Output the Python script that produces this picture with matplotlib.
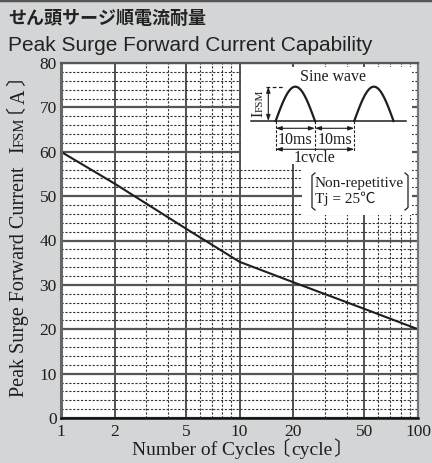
import numpy as np
import matplotlib
matplotlib.use('Agg')
import matplotlib.pyplot as plt
from matplotlib.ticker import FixedLocator, FixedFormatter, NullFormatter
from matplotlib.transforms import IdentityTransform
from matplotlib.lines import Line2D
from matplotlib.textpath import TextPath
from matplotlib.font_manager import FontProperties

# data
cycles = [1, 2, 5, 10, 20, 50, 100]
current = [60, 52.8, 42.7, 35.2, 30.6, 24.6, 20]

x_major = [1, 2, 5, 10, 20, 50, 100]
x_minor = [3, 4, 6, 7, 8, 9, 30, 40, 60, 70, 80, 90]
y_major = list(range(0, 81, 10))
y_minor = list(range(0, 81, 2))

title_jp = "せん頭サージ順電流耐量"
title_en = "Peak Surge Forward Current Capability"
# (text, font size, ink gap after in px) -- pieces share one baseline
xlabel_parts = [("Number of Cycles", 14, 10), ("〔", 14, 3), ("cycle", 14, 3), ("〕", 14, 0)]
ylabel_parts = [("Peak Surge Forward Current", 14.5, 14), ("I", 14.5, 1), ("FSM", 10.5, 6),
                ("〔", 14.5, 4), ("A", 14.5, 4), ("〕", 14.5, 0)]

SERIF = ['Liberation Serif', 'Noto Sans CJK JP']
CJK = ['Noto Sans CJK JP']
plt.rcParams['font.family'] = SERIF
INK = '#1e1e1e'

W, H = 432, 463
fig = plt.figure(figsize=(W / 100, H / 100), dpi=100, facecolor='#d4d5d6')


def px(x0, y0, x1, y1):
    # pixel box measured from the top-left -> figure fraction
    return [x0 / W, 1 - y1 / H, (x1 - x0) / W, (y1 - y0) / H]


def chain_text(x, y, parts, rotation=0, color=INK):
    # text pieces of different sizes on one baseline, spaced ink to ink;
    # x, y pixels from top-left, run centred on y (rotated) or on x (horizontal)
    items = []
    for s, fs, gap in parts:
        fam = CJK if s in "〔〕" else ['Liberation Serif']
        t = fig.text(0, 0, s, fontsize=fs, family=fam, rotation=rotation,
                     rotation_mode='anchor', ha='left', va='baseline', color=color,
                     transform=IdentityTransform())
        e = TextPath((0, 0), s, size=fs, prop=FontProperties(family=fam)).get_extents()
        i0, i1 = e.x0 * 100 / 72, e.x1 * 100 / 72
        items.append((t, i0, i1, gap))
    if rotation == 90:
        # agg draws rotated glyph ink from the anchor, bearing pushed sideways
        items = [(t, 0, i1 - i0, g, i0) for t, i0, i1, g in items]
    else:
        items = [(t, i0, i1, g, 0) for t, i0, i1, g in items]
    total = sum(b - a + g for _, a, b, g, _ in items) - items[-1][3]
    cur = -total / 2
    for t, a, b, g, dx in items:
        start = cur - a
        if rotation == 90:
            t.set_position((x - dx, H - y + start))
        else:
            t.set_position((x + start, H - y))
        cur = start + b + g


ax = fig.add_axes(px(61, 63, 418, 418))
ax.set_facecolor('white')
ax.set_xscale('log')
ax.set_xlim(1, 100)
ax.set_ylim(0, 80)
ax.xaxis.set_major_locator(FixedLocator(x_major))
ax.xaxis.set_minor_locator(FixedLocator(x_minor))
ax.xaxis.set_major_formatter(FixedFormatter([str(v) for v in x_major]))
ax.xaxis.set_minor_formatter(NullFormatter())
ax.yaxis.set_major_locator(FixedLocator(y_major))
ax.yaxis.set_minor_locator(FixedLocator(y_minor))
ax.tick_params(which='both', length=0, labelsize=12.5, colors=INK)
ax.tick_params(axis='x', pad=4)
ax.tick_params(axis='y', pad=3)

ax.grid(which='major', axis='y', color='#555555', lw=1.6)
ax.grid(which='major', axis='x', color='#222222', lw=1.1)
ax.grid(which='minor', color='#333333', lw=0.8, linestyle=(0, (2, 1.5)))
ax.set_axisbelow(True)

for side, c, w in [('left', '#666666', 2.2), ('bottom', '#111111', 1.8),
                   ('top', '#555555', 1.6), ('right', '#777777', 1.6)]:
    ax.spines[side].set_color(c)
    ax.spines[side].set_linewidth(w)

ax.plot(cycles, current, color=INK, lw=1.5, solid_joinstyle='round')

# titles and axis labels
fig.text(8 / W, 1 - 18.5 / H, title_jp, family=CJK, fontsize=13,
         weight='bold', va='center', color='#222222')
fig.text(8 / W, 1 - 51 / H, title_en, family=['Liberation Sans'], fontsize=15,
         va='baseline', color='#222222')
chain_text(236, 455, xlabel_parts)
chain_text(24.5, 239, ylabel_parts, rotation=90)

# sine wave sketch (time in ms)
ins = fig.add_axes(px(241, 67, 412, 164))
ins.set_facecolor('white')
for s in ins.spines.values():
    s.set_visible(False)
ins.set_xticks([])
ins.set_yticks([])
ins.set_xlim(-8.83, 34.7)
ins.set_ylim(-1.254, 1.574)
t = np.linspace(0, 10, 60)
ins.plot([-6.4, 33.1], [0, 0], color=INK, lw=1.1)
ins.plot(t, np.sin(np.pi * t / 10), color=INK, lw=1.6)
ins.plot(t + 20, np.sin(np.pi * t / 10), color=INK, lw=1.6)
ins.plot([-2.5, 1.9], [1, 1], color=INK, lw=0.9, linestyle=(0, (3, 2)))
for tx in [0, 10, 20]:
    ins.plot([tx, tx], [0, -0.9], color=INK, lw=0.8, linestyle=(0, (2.5, 1.5)))
arrow = dict(arrowstyle='<|-|>,head_length=0.35,head_width=0.12', color=INK, lw=0.8,
             shrinkA=0, shrinkB=0)
ins.annotate('', xy=(-1.88, 1), xytext=(-1.88, 0), arrowprops=arrow)
ins.annotate('', xy=(0, -0.213), xytext=(10, -0.213), arrowprops=arrow)
ins.annotate('', xy=(10, -0.213), xytext=(20, -0.213), arrowprops=arrow)
ins.annotate('', xy=(0, -0.825), xytext=(20, -0.825), arrowprops=arrow)
ins.text(14.6, 1.28, "Sine wave", fontsize=11.5, ha='center', va='center', color=INK)
ins.text(5, -0.55, "10ms", fontsize=11.5, ha='center', va='center', color=INK)
ins.text(15, -0.55, "10ms", fontsize=11.5, ha='center', va='center', color=INK)
ins.text(10, -1.07, "1cycle", fontsize=11.5, ha='center', va='center', color=INK)
chain_text(263.3, 103.5, [("I", 11.5, 1), ("FSM", 8, 0)], rotation=90)

# condition note
note = fig.add_axes(px(302, 163, 412, 215))
note.set_facecolor('white')
for s in note.spines.values():
    s.set_visible(False)
note.set_xticks([])
note.set_yticks([])
note.set_xlim(302, 412)
note.set_ylim(215, 163)
note.plot([315, 312, 312, 315], [173, 175.5, 207.5, 210], color=INK, lw=0.9)
note.plot([405, 408, 408, 405], [173, 175.5, 207.5, 210], color=INK, lw=0.9)
note.text(315, 183, "Non-repetitive", fontsize=11, va='center', color=INK)
note.text(315, 198.5, "Tj = 25℃", fontsize=11, va='center', color=INK)

fig.add_artist(Line2D([0, 1], [1, 1], transform=fig.transFigure, color='#555555', lw=2.5))

fig.savefig('out.png', dpi=100, facecolor=fig.get_facecolor())
